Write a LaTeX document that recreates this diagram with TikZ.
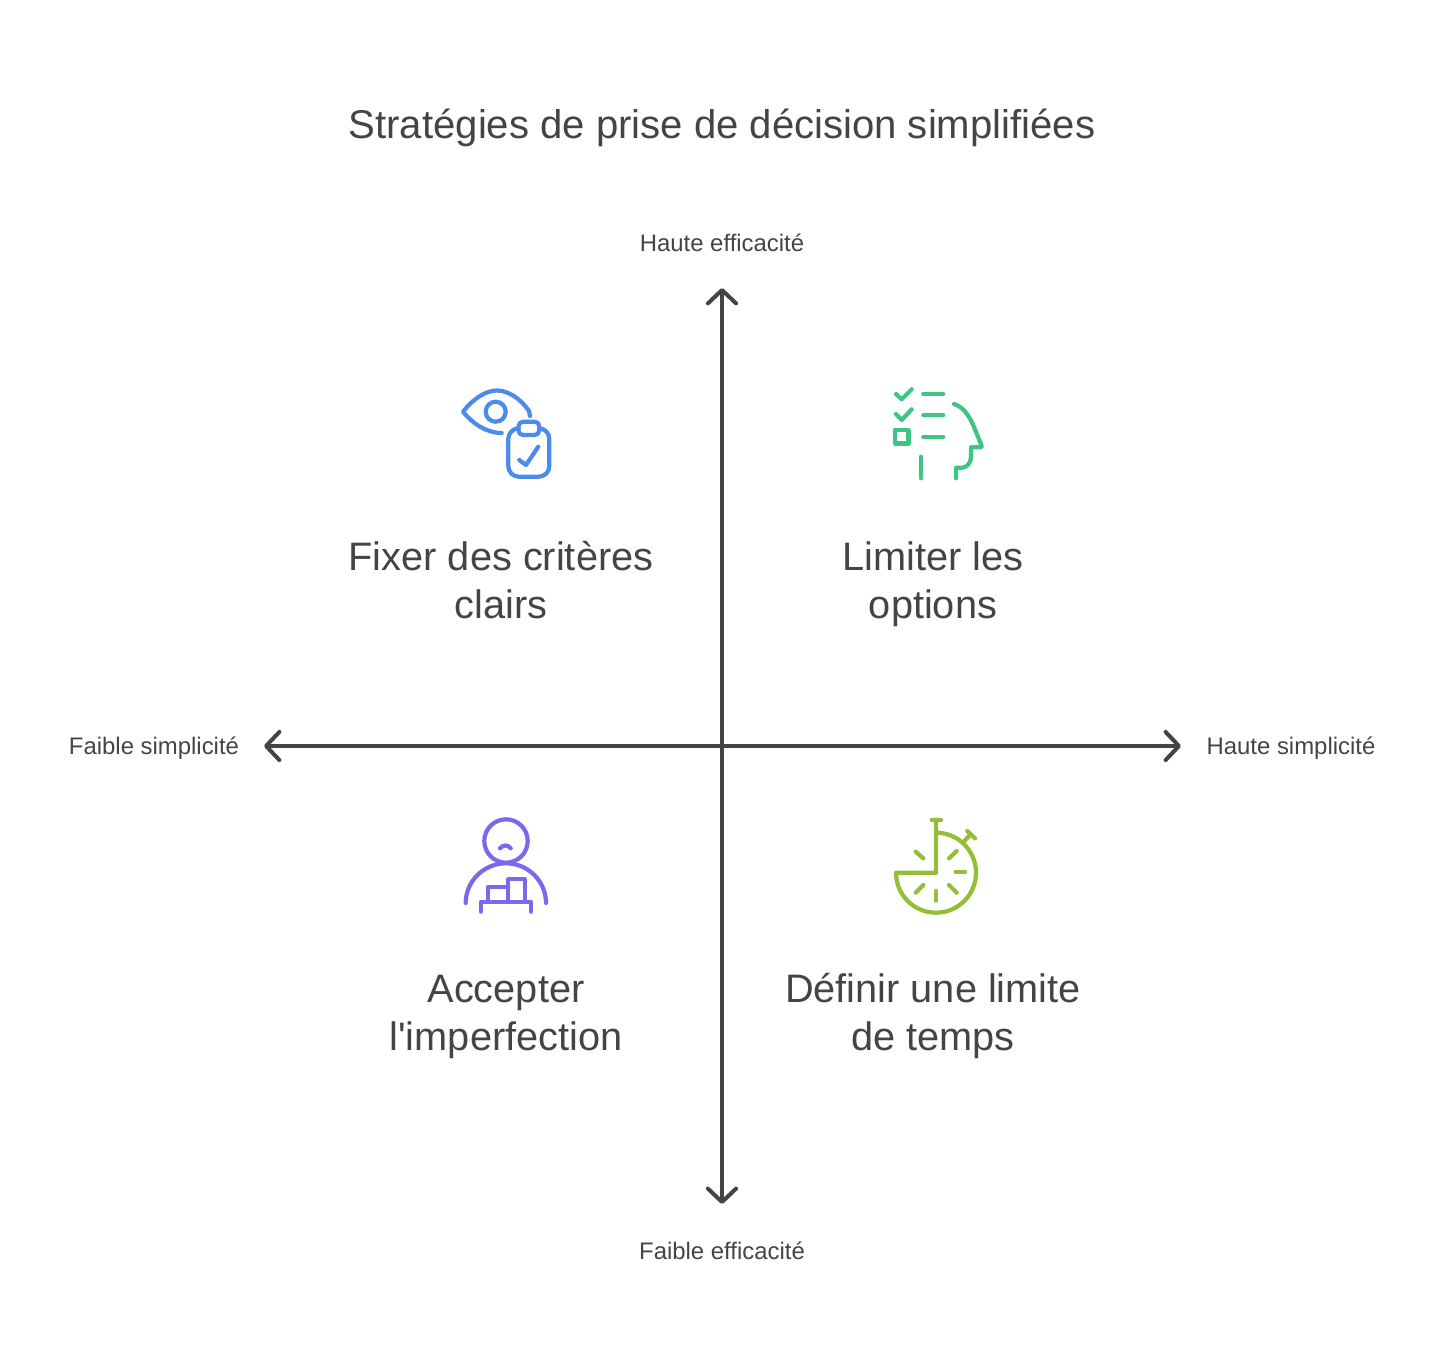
\documentclass[tikz,border=0pt]{standalone}
\usepackage{fontspec}
\setmainfont{Liberation Sans}
\usetikzlibrary{arrows.meta}

\definecolor{axisgray}{HTML}{444444}
\definecolor{eyeblue}{HTML}{4C8BEA}
\definecolor{headgreen}{HTML}{3CC583}
\definecolor{sadpurple}{HTML}{7B68EE}
\definecolor{clocklime}{HTML}{93BE36}

\tikzset{
  axisline/.style={line width=1.15pt,axisgray,{Straight Barb[round,length=3.8pt,width=8pt,line width=1.15pt]}-{Straight Barb[round,length=3.8pt,width=8pt,line width=1.15pt]}},
  icon/.style={line width=1.2pt,line cap=round,line join=round},
  bigtext/.style={text=axisgray,align=center,font=\fontsize{11.3pt}{13.66pt}\selectfont},
  smalltext/.style={text=axisgray,font=\fontsize{6.8pt}{8pt}\selectfont}
}

\begin{document}
\begin{tikzpicture}[x=0.01cm,y=-0.01cm]
 \useasboundingbox (0,0) rectangle (1444,1372);

 \node[text=axisgray,font=\fontsize{11.4pt}{13.66pt}\selectfont] at (722,128) (title) {Stratégies de prise de décision simplifiées};

 \coordinate (left) at (264,746);
 \coordinate (right) at (1181,746);
 \coordinate (top) at (722,288);
 \coordinate (bottom) at (722,1204);
 \draw[axisline] (left)--(right);
 \draw[axisline] (bottom)--(top);

 \node[smalltext] at (722,243) (higheff) {Haute efficacité};
 \node[smalltext] at (722,1251) (loweff) {Faible efficacité};
 \node[smalltext] at (154,748) (lowsimple) {Faible simplicité};
 \node[smalltext] at (1291,748) (highsimple) {Haute simplicité};

 \node[bigtext] at (501,580) (criteria) {Fixer des critères\\clairs};
 \node[bigtext] at (933,584) (options) {Limiter les\\options};
 \node[bigtext] at (506,1017) (imperfect) {Accepter\\l\textquotesingle imperfection};
 \node[bigtext] at (933,1016) (timelimit) {Définir une limite\\de temps};

 % eye and clipboard
 \begin{scope}[icon,eyeblue]
  \draw (530,416)--(529,411) .. controls (520,398) and (508,390.5) .. (496.7,390.5)
    .. controls (485,390.5) and (472,400) .. (463,411.7)
    .. controls (472,423) and (486,433) .. (501.7,433);
  \draw (495.7,411.7) circle (10);
  \draw[rounded corners=3pt] (518.5,428.3)--(508.3,428.3)--(508.3,476.7)--(549.3,476.7)--(549.3,428.3)--(539,428.3);
  \draw[rounded corners=1.3pt] (518.5,421.7) rectangle (539.3,435);
  \draw (519.3,460)--(526,465)--(538.3,446.7);
 \end{scope}

 % checklist and head
 \begin{scope}[icon,headgreen]
  \draw (896,394)--(901.7,399.3)--(911.7,389.3);
  \draw (896,414)--(901.7,420)--(911.7,409.3);
  \draw (923.3,394)--(943.3,394);
  \draw (923.3,415.3)--(943.3,415.3);
  \draw (923.3,436.7)--(943.3,436.7);
  \draw (895,430) rectangle (908.5,443.5);
  \draw (921,456.7)--(921,478.3);
  \draw (954,404) .. controls (965,407) and (971,420) .. (974,427)
    -- (981.7,446) .. controls (982,447) and (981,447.3) .. (980,447.3)
    -- (971,447.3)--(971,456.7) .. controls (971,463) and (967,467.7) .. (961.7,467.7)
    -- (956,467.7)--(956,478.3);
 \end{scope}

 % person behind a podium
 \begin{scope}[icon,sadpurple]
  \draw (506,841) circle (21.7);
  \draw (500,848.3) .. controls (503,844.5) and (508,844.5) .. (510.7,848.3);
  \draw (465.7,903) .. controls (465.7,881) and (484,863.3) .. (506,863.3)
    .. controls (528,863.3) and (546,881) .. (546,903);
  \draw (481,911.7)--(481,901.7)--(531,901.7)--(531,911.7);
  \draw (487.7,901.7)--(487.7,887.3)--(508.3,887.3);
  \draw (508.3,901.7)--(508.3,879.3)--(525,879.3)--(525,901.7);
 \end{scope}

 % stopwatch
 \begin{scope}[icon,clocklime]
  \draw (931.7,819.7)--(941,819.7);
  \draw (936,819.7)--(936,872.7)--(896,872.7)
    .. controls (896,894.8) and (913.9,912.7) .. (936,912.7)
    .. controls (958.1,912.7) and (976,894.8) .. (976,872.7)
    .. controls (976,850.6) and (958.1,832.7) .. (936,832.7);
  \draw (964.3,841)--(970.7,834.3);
  \draw (967.3,831)--(975,838.3);
  \draw (915.7,851.7)--(923.3,858.3);
  \draw (949,858.3)--(956.7,851);
  \draw (955.7,871.7)--(965,871.7);
  \draw (949,885)--(956.7,892.7);
  \draw (936,891)--(936,900.7);
  \draw (915.7,892.7)--(923.3,885);
 \end{scope}
\end{tikzpicture}
\end{document}
